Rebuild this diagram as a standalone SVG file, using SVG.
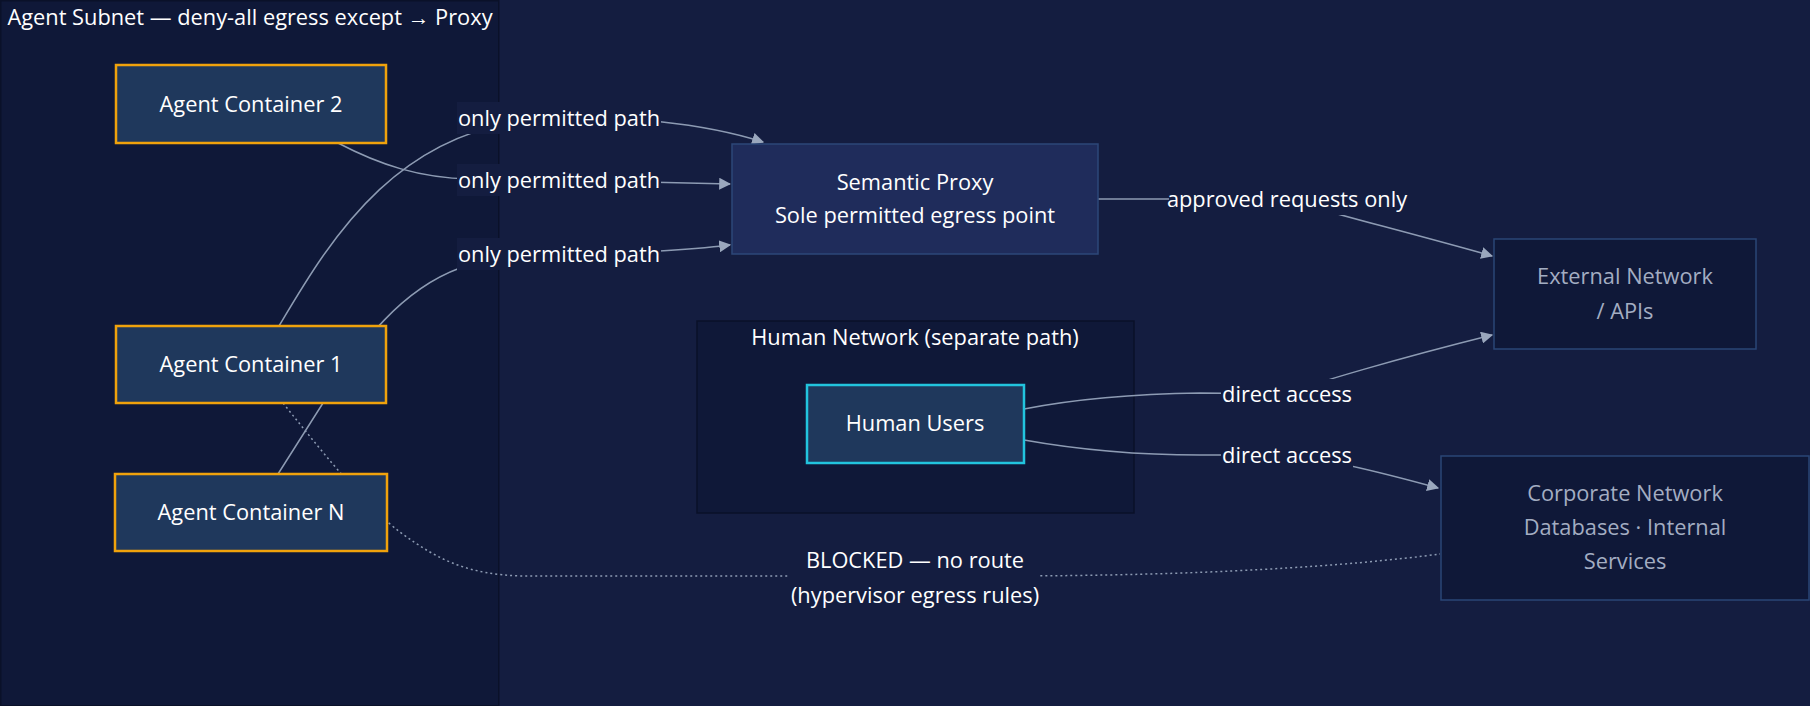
<svg xmlns="http://www.w3.org/2000/svg" width="1810" height="706" viewBox="0 0 1810 706">
  <defs>
    <marker id="arrow" viewBox="0 0 10 10" refX="9" refY="5" markerWidth="12" markerHeight="12" markerUnits="userSpaceOnUse" orient="auto">
      <path d="M0,0 L10,5 L0,10 z" fill="#9aa7bd"/>
    </marker>
    <style>
      text { font-family: "Open Sans", "Liberation Sans", sans-serif; font-size: 21.8px; fill: #ffffff; text-anchor: middle; }
      .muted { fill: #a3adc2; }
      .cluster { fill: #0f1838; stroke: #0a1129; stroke-width: 1.5; }
      .agent { fill: #1f385c; stroke: #f0a20c; stroke-width: 2.5; }
      .proxy { fill: #1f2c5b; stroke: #2d4778; stroke-width: 1.5; }
      .target { fill: #0f1838; stroke: #2a4676; stroke-width: 1.5; }
      .human { fill: #1f385c; stroke: #22c4de; stroke-width: 2.5; }
      .edge { fill: none; stroke: #8d9bb3; stroke-width: 1.5; }
      .blocked { fill: none; stroke: #8d9bb3; stroke-width: 1.5; stroke-dasharray: 2 3; }
      .lbl-bg { fill: #141d40; }
    </style>
  </defs>

  <!-- canvas -->
  <rect x="0" y="0" width="1810" height="706" fill="#141d40"/>

  <!-- clusters -->
  <g id="agent-subnet">
    <rect class="cluster" x="0.75" y="0.75" width="498" height="705"/>
    <text x="250" y="25">Agent Subnet — deny-all egress except → Proxy</text>
  </g>
  <g id="human-network">
    <rect class="cluster" x="697" y="321" width="437" height="192"/>
    <text x="915" y="345">Human Network (separate path)</text>
  </g>

  <!-- connectors -->
  <g id="connectors">
    <path class="edge" d="M279,326 C330,240 400,120 559,118 C620,116 700,122 763,142" marker-end="url(#arrow)"/>
    <path class="edge" d="M338,143 C380,165 420,178 470,179 L559,180 L730,184" marker-end="url(#arrow)"/>
    <path class="edge" d="M278,474 L330,392 C360,345 400,290 460,268 Q500,255 559,254 C620,254 690,250 730,245" marker-end="url(#arrow)"/>
    <path class="edge" d="M1098,199 L1287,199 C1310,208 1400,230 1492,256" marker-end="url(#arrow)"/>
    <path class="edge" d="M1024,409 C1070,400 1130,394 1200,393 L1287,394 C1310,384 1400,358 1492,335" marker-end="url(#arrow)"/>
    <path class="edge" d="M1024,440 C1080,450 1140,455 1200,455 L1287,455 C1320,458 1380,472 1438,488" marker-end="url(#arrow)"/>
    <path class="blocked" d="M283,403 C330,462 370,510 400,532 C440,562 470,574 520,576 L1000,576 C1200,576 1350,566 1440,554"/>

    <!-- edge labels -->
    <rect class="lbl-bg" x="457" y="102" width="204" height="32"/>
    <text x="559" y="126">only permitted path</text>
    <rect class="lbl-bg" x="457" y="164" width="204" height="32"/>
    <text x="559" y="188">only permitted path</text>
    <rect class="lbl-bg" x="457" y="238" width="204" height="32"/>
    <text x="559" y="262">only permitted path</text>
    <rect class="lbl-bg" x="1169" y="184" width="236" height="31"/>
    <text x="1287" y="207">approved requests only</text>
    <rect class="lbl-bg" x="1221" y="379" width="132" height="31"/>
    <text x="1287" y="402">direct access</text>
    <rect class="lbl-bg" x="1221" y="440" width="132" height="31"/>
    <text x="1287" y="463">direct access</text>
    <rect class="lbl-bg" x="790" y="543" width="250" height="70"/>
    <text x="915" y="568">BLOCKED — no route</text>
    <text x="915" y="603">(hypervisor egress rules)</text>
  </g>

  <!-- nodes -->
  <g id="agent-container-2">
    <rect class="agent" x="116" y="65" width="270" height="78"/>
    <text x="251" y="112">Agent Container 2</text>
  </g>
  <g id="agent-container-1">
    <rect class="agent" x="116" y="326" width="270" height="77"/>
    <text x="251" y="372">Agent Container 1</text>
  </g>
  <g id="agent-container-n">
    <rect class="agent" x="115" y="474" width="272" height="77"/>
    <text x="251" y="520">Agent Container N</text>
  </g>
  <g id="semantic-proxy">
    <rect class="proxy" x="732" y="144" width="366" height="110"/>
    <text x="915" y="190">Semantic Proxy</text>
    <text x="915" y="223">Sole permitted egress point</text>
  </g>
  <g id="human-users">
    <rect class="human" x="807" y="385" width="217" height="78"/>
    <text x="915" y="431">Human Users</text>
  </g>
  <g id="external-network">
    <rect class="target" x="1494" y="239" width="262" height="110"/>
    <text class="muted" x="1625" y="284">External Network</text>
    <text class="muted" x="1625" y="319">/ APIs</text>
  </g>
  <g id="corporate-network">
    <rect class="target" x="1441" y="456" width="368" height="144"/>
    <text class="muted" x="1625" y="501">Corporate Network</text>
    <text class="muted" x="1625" y="535">Databases · Internal</text>
    <text class="muted" x="1625" y="569">Services</text>
  </g>
</svg>
